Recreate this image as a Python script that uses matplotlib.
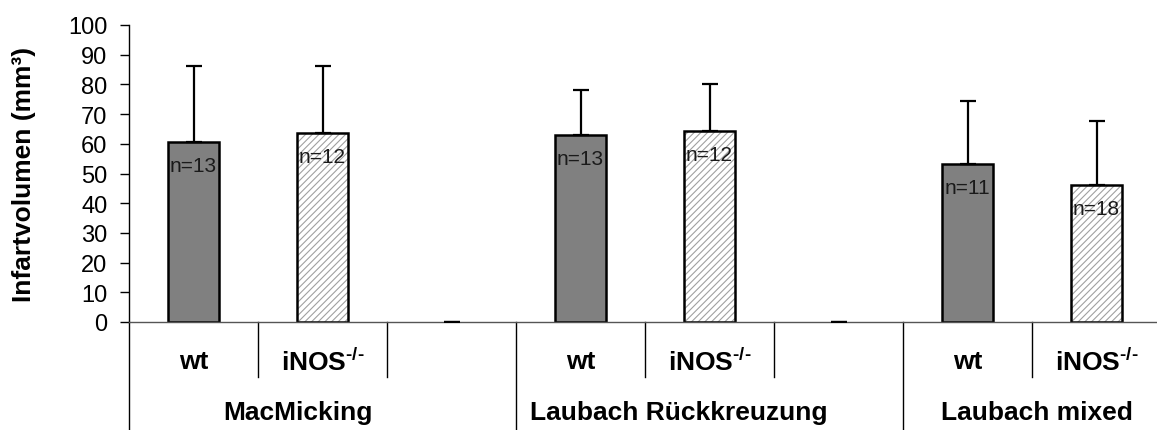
import matplotlib as mpl
mpl.use('Agg')
import matplotlib.pyplot as plt
import matplotlib.transforms as mtransforms
import numpy as np

plt.rcParams['font.family'] = 'Liberation Sans'
plt.rcParams['mathtext.fontset'] = 'custom'
plt.rcParams['mathtext.rm'] = 'Liberation Sans:bold'
plt.rcParams['mathtext.bf'] = 'Liberation Sans:bold'
plt.rcParams['mathtext.default'] = 'bf'
plt.rcParams['hatch.linewidth'] = 0.8

# slots: wt, iNOS, (leer) per Gruppe, letzte Gruppe ohne Leerslot
slot_labels = ['wt', 'iNOS$^{\\text{-/-}}$', '', 'wt', 'iNOS$^{\\text{-/-}}$', '',
               'wt', 'iNOS$^{\\text{-/-}}$']
means = [60.5, 63.8, 0, 63.1, 64.4, 0, 53.3, 46.0]
sd_up = [25.6, 22.3, 0, 15.0, 15.7, 0, 21.0, 21.8]
n_labels = ['n=13', 'n=12', '', 'n=13', 'n=12', '', 'n=11', 'n=18']
genotype = ['wt', 'ko', None, 'wt', 'ko', None, 'wt', 'ko']

groups = ['MacMicking', 'Laubach Rückkreuzung', 'Laubach mixed']
group_label_x = [0.81, 3.76, 6.54]
group_bounds = [-0.5, 2.5, 5.5]
inner_bounds = [0.5, 1.5, 3.5, 4.5, 6.5]

W, H = 1157, 431
fig = plt.figure(figsize=(W / 100, H / 100), dpi=100)
ax = fig.add_axes([129 / W, 108 / H, 1032 / W, 297 / H])

x = np.arange(len(means))
for i in x:
    if genotype[i] == 'wt':
        ax.bar(i, means[i], width=0.4, color='#808080', edgecolor='black', linewidth=1.8, zorder=2)
    elif genotype[i] == 'ko':
        # Schraffur in hellgrau, Rand schwarz drueber
        ax.bar(i, means[i], width=0.4, color='white', edgecolor='#a0a0a0', linewidth=0,
               hatch='/////', zorder=2)
        ax.bar(i, means[i], width=0.4, fill=False, edgecolor='black', linewidth=1.8, zorder=2.5)

ax.errorbar(x, means, yerr=[np.zeros(len(means)), sd_up], fmt='none', ecolor='black',
            elinewidth=1.6, capsize=5.5, capthick=1.6, zorder=3)

for i in x:
    if n_labels[i]:
        ax.annotate(n_labels[i], (i, means[i]), xytext=(0, -17), textcoords='offset points',
                    ha='center', va='center', fontsize=15, color='#1a1a1a', zorder=4)

ax.set_xlim(-0.5, 7.5)
ax.set_ylim(0, 100)
ax.set_yticks(np.arange(0, 101, 10))
ax.tick_params(axis='y', labelsize=17, length=6.5, width=1, direction='out', pad=9)
ax.set_xticks([])
for s in ['top', 'right']:
    ax.spines[s].set_visible(False)
ax.spines['left'].set_linewidth(1)
ax.spines['bottom'].set_color('#555555')
ax.spines['bottom'].set_linewidth(1)
ax.set_ylabel('Infartvolumen (mm³)', fontsize=19, fontweight='bold')
ax.yaxis.set_label_coords(-0.090, 0.5)

# hierarchische Kategorieachse unten
trans = mtransforms.blended_transform_factory(ax.transData, fig.transFigure)
y0 = 108 / H
for b in group_bounds:
    ax.plot([b, b], [y0, 0], color='black', lw=1, transform=trans, clip_on=False)
for b in inner_bounds:
    ax.plot([b, b], [y0, 53 / H], color='black', lw=1, transform=trans, clip_on=False)

for i, lab in enumerate(slot_labels):
    if lab:
        ax.text(i, 69 / H, lab, transform=trans, ha='center', va='center',
                fontsize=19, fontweight='bold')
for gx, g in zip(group_label_x, groups):
    ax.text(gx, 18 / H, g, transform=trans, ha='center', va='center',
            fontsize=19, fontweight='bold')

fig.savefig('out.png', dpi=100)
